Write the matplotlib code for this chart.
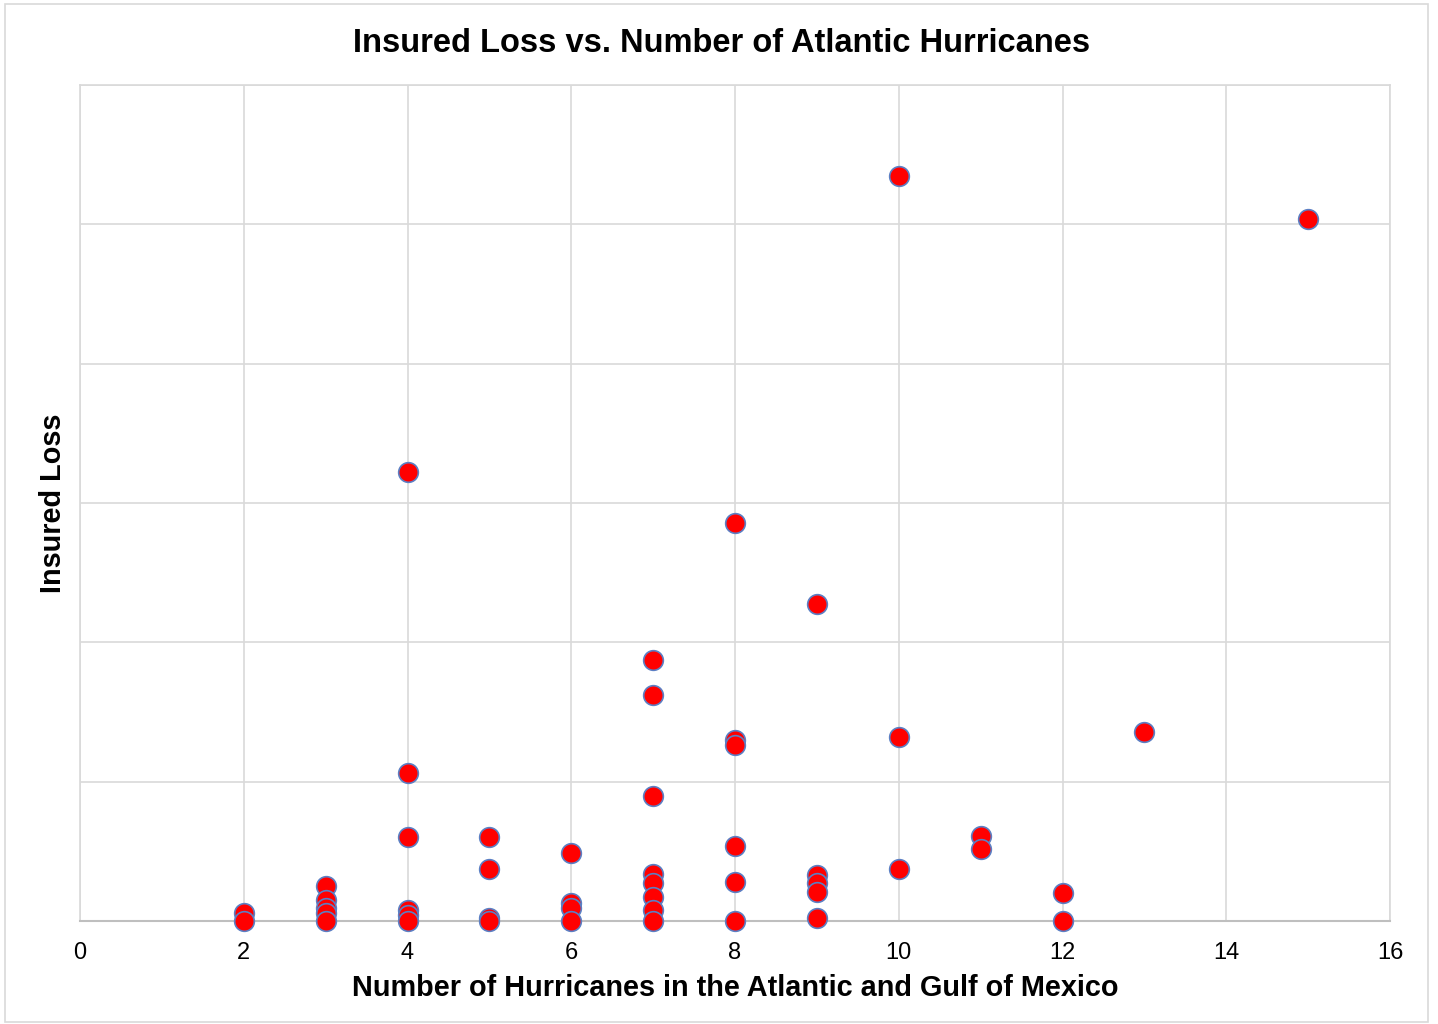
import matplotlib
matplotlib.use("Agg")
import matplotlib.pyplot as plt
from matplotlib.patches import Rectangle

plt.rcParams['font.family'] = ['Liberation Sans', 'DejaVu Sans']

# Number of hurricanes (x) and insured loss (y, in gridline units; axis has no labels)
hurricanes = [10, 15, 4, 8, 9, 7, 7, 8, 8, 10, 13, 4, 7, 4, 5, 5, 6, 8, 11, 11, 10,
              12, 12, 8, 8, 9, 9, 9, 9, 7, 7, 7, 7, 7, 6, 6, 6, 2, 2,
              3, 3, 3, 3, 3, 4, 4, 4, 5, 5]
insured_loss = [5.35, 5.04, 3.22, 2.86, 2.275, 1.87, 1.62, 1.30, 1.26, 1.32, 1.36, 1.06,
                0.90, 0.60, 0.60, 0.37, 0.49, 0.54, 0.61, 0.52, 0.37,
                0.20, 0.00, 0.28, 0.00, 0.33, 0.27, 0.21, 0.02, 0.34, 0.27, 0.17, 0.08, 0.00,
                0.13, 0.09, 0.00, 0.06, 0.00,
                0.25, 0.15, 0.09, 0.06, 0.00, 0.08, 0.04, 0.00, 0.02, 0.00]

x_ticks = [0, 2, 4, 6, 8, 10, 12, 14, 16]
y_grid = [0, 1, 2, 3, 4, 5, 6]

fig = plt.figure(figsize=(14.38, 10.24), dpi=100)
fig.patches.append(Rectangle((5/1438, 2/1024), 1423/1438, 1018/1024, transform=fig.transFigure,
                             fill=False, edgecolor='#D9D9D9', linewidth=1.2))
ax = fig.add_axes([80/1438, (1024-921)/1024, (1390-80)/1438, (921-85)/1024])

ax.scatter(hurricanes, insured_loss, s=200, color='#FF0000', edgecolor='#5B7FC4',
           linewidth=1.2, zorder=3, clip_on=False)

ax.set_xlim(0, 16)
ax.set_ylim(0, 6)
ax.set_xticks(x_ticks)
ax.set_yticks(y_grid)
ax.set_yticklabels([])
ax.tick_params(axis='both', length=0)
ax.tick_params(axis='x', labelsize=17, pad=15)
ax.grid(True, color='#D9D9D9', linewidth=1.2, zorder=0)
ax.set_axisbelow(True)
for s in ['top', 'right', 'left']:
    ax.spines[s].set_color('#D9D9D9')
    ax.spines[s].set_linewidth(1.2)
ax.spines['bottom'].set_color('#BFBFBF')
ax.spines['bottom'].set_linewidth(1.5)

ax.set_xlabel('Number of Hurricanes in the Atlantic and Gulf of Mexico',
              fontsize=20.8, fontweight='bold', labelpad=7)
ax.set_ylabel('Insured Loss', fontsize=20.8, fontweight='bold', labelpad=6)
fig.text(722/1438, 1 - 43/1024, 'Insured Loss vs. Number of Atlantic Hurricanes',
         ha='center', va='center', fontsize=23.5, fontweight='bold')

fig.savefig('out.png', dpi=100)
